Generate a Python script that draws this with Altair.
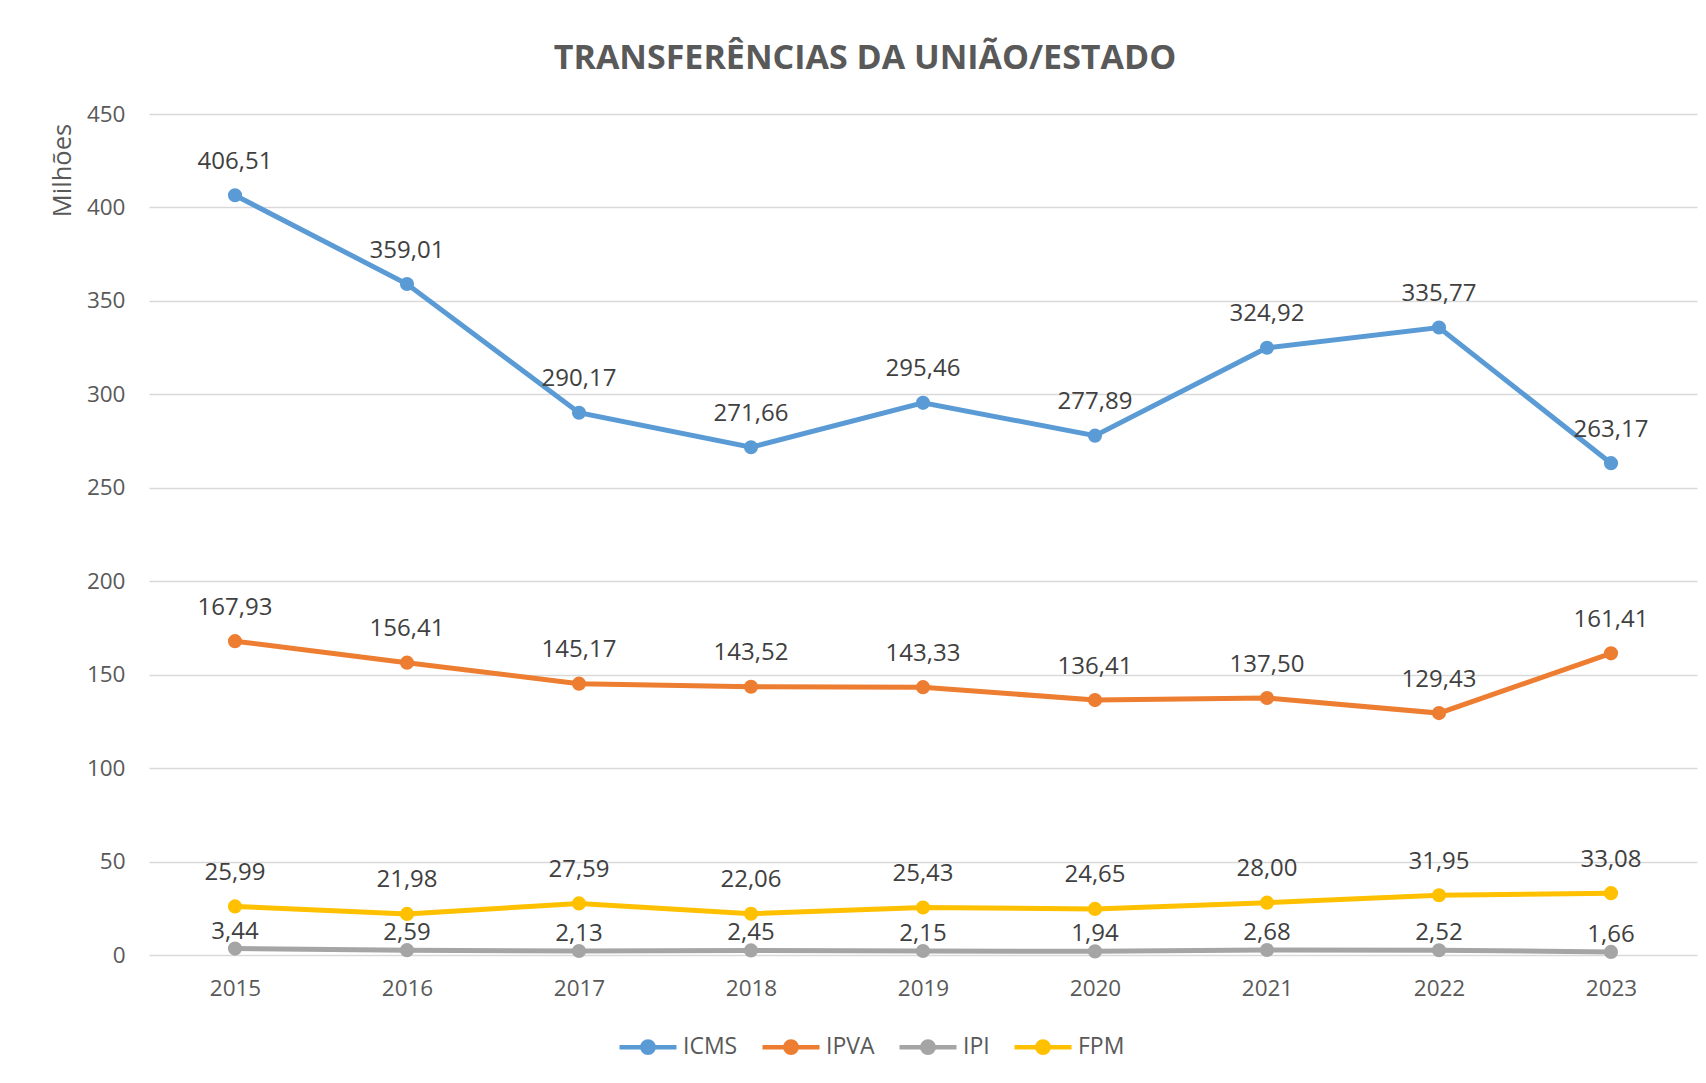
import altair as alt
import pandas as pd

years = ["2015", "2016", "2017", "2018", "2019", "2020", "2021", "2022", "2023"]
series = ["ICMS", "IPVA", "IPI", "FPM"]
icms = [406.51, 359.01, 290.17, 271.66, 295.46, 277.89, 324.92, 335.77, 263.17]
ipva = [167.93, 156.41, 145.17, 143.52, 143.33, 136.41, 137.50, 129.43, 161.41]
ipi = [3.44, 2.59, 2.13, 2.45, 2.15, 1.94, 2.68, 2.52, 1.66]
fpm = [25.99, 21.98, 27.59, 22.06, 25.43, 24.65, 28.00, 31.95, 33.08]
colors = ["#5B9BD5", "#ED7D31", "#A5A5A5", "#FFC000"]
y_ticks = [0, 50, 100, 150, 200, 250, 300, 350, 400, 450]

rows = []
for name, vals in zip(series, [icms, ipva, ipi, fpm]):
    for yr, v in zip(years, vals):
        rows.append({"Ano": yr, "Serie": name, "Valor": v,
                     "Rotulo": f"{v:.2f}".replace(".", ",")})
df = pd.DataFrame(rows)

FONT = "Open Sans"
GREY = "#595959"

# legend symbol: line with a dot (concentric rings make the dot look solid)
sym = ("M-1,0L1,0"
       "M0.06,0A0.06,0.06 0 1,0 -0.06,0A0.06,0.06 0 1,0 0.06,0"
       "M0.2,0A0.2,0.2 0 1,0 -0.2,0A0.2,0.2 0 1,0 0.2,0")

x_enc = alt.X("Ano:N", sort=years, title=None,
              axis=alt.Axis(labelAngle=0, labelFont=FONT, labelFontSize=22.5,
                            labelColor=GREY, ticks=False, domain=False,
                            labelPadding=22, grid=False))
y_enc = alt.Y("Valor:Q", scale=alt.Scale(domain=[0, 450], nice=False),
              axis=alt.Axis(values=y_ticks, title="Milhões", titleFont=FONT,
                            titleFontSize=25.5, titleFontWeight="normal",
                            titleColor=GREY, titleX=-87, titleY=56,
                            titleAlign="center", titleBaseline="middle",
                            labelFont=FONT, labelFontSize=22.5, labelColor=GREY,
                            labelPadding=24, ticks=False, domain=False,
                            gridColor="#D9D9D9", gridWidth=1.5))
color_scale = alt.Scale(domain=series, range=colors)

base = alt.Chart(df)

lines = base.mark_line(strokeWidth=5).encode(
    x=x_enc, y=y_enc,
    color=alt.Color("Serie:N", scale=color_scale, sort=series, title=None,
                    legend=alt.Legend(orient="none", direction="horizontal",
                                      legendX=468, legendY=902, padding=0,
                                      symbolType=sym, symbolSize=3249,
                                      symbolStrokeWidth=4.5, labelOffset=4,
                                      columnPadding=15, labelFont=FONT,
                                      labelFontSize=23, labelColor=GREY,
                                      labelLimit=200)),
    detail="Serie:N",
)

points = base.mark_circle(size=200, opacity=1).encode(
    x=x_enc, y=y_enc,
    color=alt.Color("Serie:N", scale=color_scale, sort=series, legend=None),
)

labels_main = base.transform_filter(alt.datum.Serie != "IPI").mark_text(
    font=FONT, fontSize=24, color="#404040", baseline="middle", dy=-33.5
).encode(x=x_enc, y=y_enc, text="Rotulo:N")

labels_ipi = base.transform_filter(alt.datum.Serie == "IPI").mark_text(
    font=FONT, fontSize=24, color="#404040", baseline="middle", dy=-17
).encode(x=x_enc, y=y_enc, text="Rotulo:N")

chart = alt.layer(lines, points, labels_main, labels_ipi).properties(
    width=1548, height=841,
    title=alt.TitleParams("TRANSFERÊNCIAS DA UNIÃO/ESTADO", font=FONT,
                          fontSize=34, fontWeight="bold", color=GREY,
                          anchor="middle", frame="group", dx=-58, offset=27),
    padding={"left": 141, "top": 106, "right": 1, "bottom": 112},
    autosize=alt.AutoSizeParams(type="none"),
    background="white",
).configure_view(strokeWidth=0)

chart.save("out.html", embed_options={"renderer": "svg", "actions": False})
